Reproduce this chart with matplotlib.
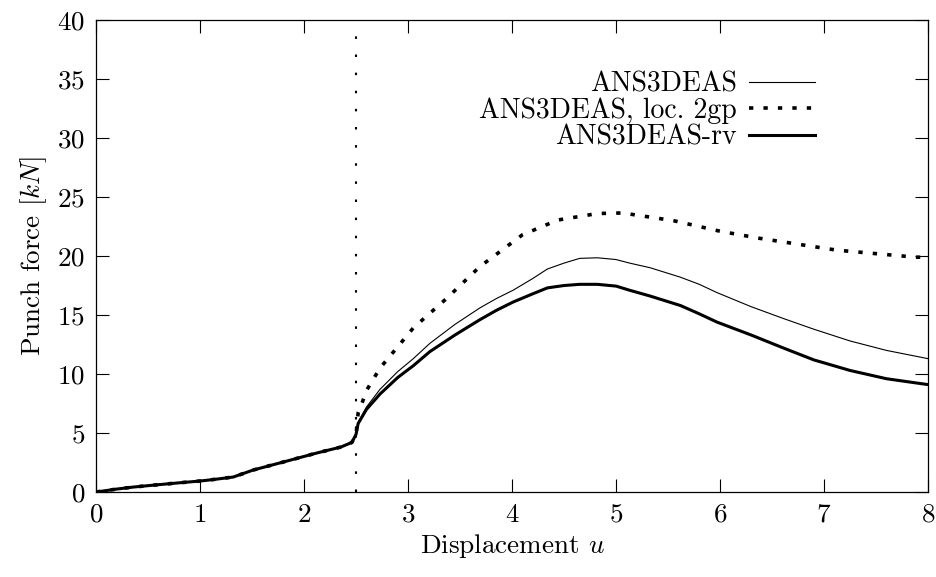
import matplotlib.pyplot as plt

# Computer Modern look, like a gnuplot epslatex figure
plt.rcParams['font.family'] = ['cmr10', 'DejaVu Serif']
plt.rcParams['mathtext.fontset'] = 'cm'
plt.rcParams['axes.formatter.use_mathtext'] = True

# common part of all curves up to u = 2.5
base_u = [0.0, 0.2, 0.36, 0.6, 0.8, 1.0, 1.15, 1.32, 1.51, 1.8, 2.12, 2.35, 2.46, 2.5]
base_f = [0.0, 0.25, 0.42, 0.62, 0.78, 0.93, 1.08, 1.27, 1.86, 2.54, 3.3, 3.8, 4.2, 4.9]

thin_u = [2.52, 2.6, 2.73, 2.9, 3.05, 3.21, 3.45, 3.69, 3.85, 4.01, 4.2, 4.34, 4.5, 4.65, 4.82,
          5.0, 5.13, 5.33, 5.62, 5.8, 5.97, 6.3, 6.61, 6.9, 7.25, 7.6, 8.0]
thin_f = [5.9, 7.2, 8.7, 10.2, 11.3, 12.6, 14.2, 15.6, 16.4, 17.1, 18.1, 18.9, 19.4, 19.8, 19.85,
          19.7, 19.4, 19.0, 18.2, 17.6, 16.9, 15.7, 14.7, 13.8, 12.8, 12.0, 11.3]

loc_u = [2.52, 2.56, 2.6, 2.73, 2.9, 3.05, 3.37, 3.69, 4.1, 4.44, 4.82, 5.06, 5.55, 6.0,
         6.38, 6.75, 7.12, 7.5, 7.88, 8.0]
loc_f = [6.7, 7.6, 8.6, 10.5, 12.3, 13.9, 16.4, 19.1, 21.8, 23.05, 23.6, 23.65, 23.0, 22.1,
         21.5, 21.0, 20.5, 20.2, 19.9, 19.9]

rv_u = [2.52, 2.6, 2.73, 2.9, 3.05, 3.21, 3.45, 3.69, 3.85, 4.01, 4.2, 4.34, 4.5, 4.65, 4.82,
        5.0, 5.13, 5.33, 5.62, 5.8, 5.97, 6.3, 6.61, 6.9, 7.25, 7.6, 8.0]
rv_f = [5.8, 7.0, 8.3, 9.7, 10.7, 11.9, 13.3, 14.6, 15.4, 16.1, 16.8, 17.3, 17.5, 17.6, 17.6,
        17.45, 17.1, 16.6, 15.8, 15.1, 14.4, 13.3, 12.2, 11.2, 10.3, 9.6, 9.1]

u_split = 2.5
fs = 19.5

fig = plt.figure(figsize=(9.37, 5.77), dpi=100)
ax = fig.add_axes([0.1025, 0.1473, 0.888, 0.818])

ax.plot(base_u + thin_u, base_f + thin_f, color='black', lw=0.8, label='ANS3DEAS')
ax.plot(base_u + loc_u, base_f + loc_f, color='black', lw=2.6,
        linestyle=(0, (1.2, 2.8)), dash_capstyle='butt', label='ANS3DEAS, loc. 2gp')
ax.plot(base_u + rv_u, base_f + rv_f, color='black', lw=2.2, label='ANS3DEAS-rv')
ax.axvline(u_split, color='black', lw=1.5, linestyle=(0, (1.2, 7.5)), dash_capstyle='butt')

ax.set_xlim(0, 8)
ax.set_ylim(0, 40)
ax.set_xticks(range(0, 9))
ax.set_yticks(range(0, 41, 5))
ax.tick_params(direction='in', length=9.5, width=0.8, labelsize=fs,
               top=True, right=True, pad=8)
for s in ax.spines.values():
    s.set_linewidth(0.9)

ax.set_xlabel('Displacement $u$', fontsize=fs, labelpad=4)
ax.set_ylabel('Punch force $[kN]$', fontsize=fs, labelpad=6)

ax.legend(loc='upper right', bbox_to_anchor=(0.877, 0.915), frameon=False,
          markerfirst=False, fontsize=20, handlelength=2.35, handletextpad=0.45,
          labelspacing=0.0, borderaxespad=0)

fig.savefig('out.png', dpi=100)
